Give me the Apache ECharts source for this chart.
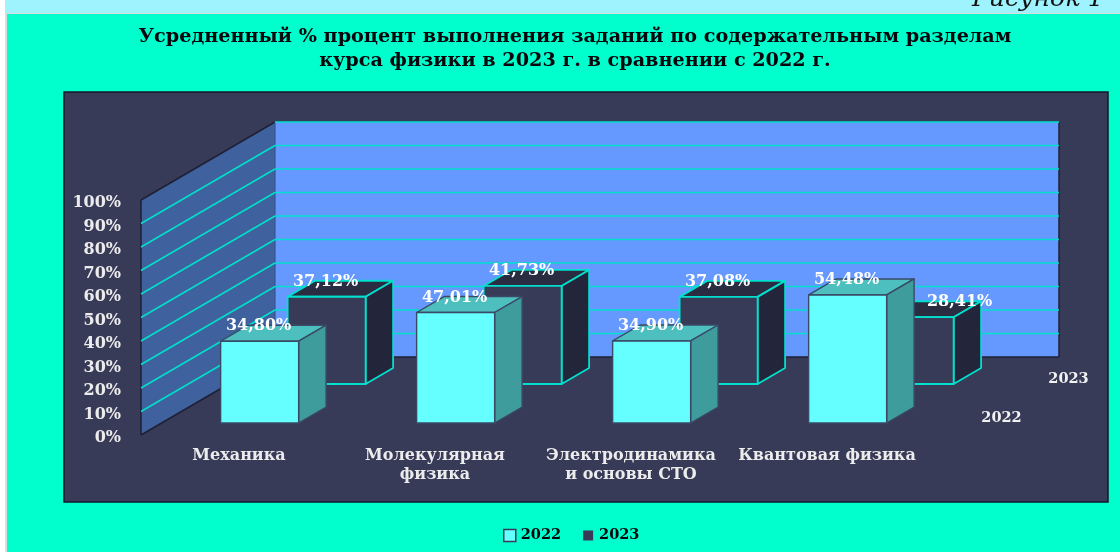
<!DOCTYPE html>
<html>
<head>
<meta charset="utf-8">
<style>
html,body{margin:0;padding:0;background:#fff;overflow:hidden}
#chart{width:1120px;height:552px}
</style>
<script src="https://cdn.jsdelivr.net/npm/echarts@6/dist/echarts.min.js"></script>
</head>
<body>
<div id="chart"></div>
<script>
// Average task completion by physics course section, 2023 against 2022
const categories = ['Механика', 'Молекулярная\nфизика', 'Электродинамика\nи основы СТО', 'Квантовая физика'];
const values2022 = [34.80, 47.01, 34.90, 54.48];
const values2023 = [37.12, 41.73, 37.08, 28.41];
const percentTicks = [0, 10, 20, 30, 40, 50, 60, 70, 80, 90, 100];
const titleText = 'Усредненный % процент выполнения заданий по содержательным разделам\nкурса физики в 2023 г. в сравнении с 2022 г.';
const figureCaption = 'Рисунок 1';

const SERIF = '"DejaVu Serif", "Liberation Serif", serif';

// Oblique projection of the third axis: screen shift from the front of the floor to the back wall
const DEPTH = [134, -78];
const project = (p, z) => [p[0] + DEPTH[0] * z, p[1] + DEPTH[1] * z];
const BAR_RATIO = 0.398;

const poly = (points, fill, stroke, lineWidth) => ({
  type: 'polygon',
  shape: { points },
  style: { fill, stroke, lineWidth: lineWidth === undefined ? 1 : lineWidth, lineJoin: 'round' },
  silent: true
});
const seg = (a, b, stroke, lineWidth) => ({
  type: 'line',
  shape: { x1: a[0], y1: a[1], x2: b[0], y2: b[1] },
  style: { stroke, lineWidth },
  silent: true
});

// Back wall and side wall, both spanning the full value range
function renderWalls(params, api) {
  const band = api.size([1, 0])[0];
  const b0 = api.coord([0, 0]);
  const t0 = api.coord([0, 100]);
  const bN = api.coord([categories.length - 1, 0]);
  const left = b0[0] - band / 2;
  const right = bN[0] + band / 2;
  const fl = [left, b0[1]], tl = [left, t0[1]], fr = [right, b0[1]], tr = [right, t0[1]];
  const edge = '#1e2036';
  return {
    type: 'group',
    children: [
      poly([project(tl, 1), project(tr, 1), project(fr, 1), project(fl, 1)], '#6699FF', 'transparent', 0),
      poly([tl, project(tl, 1), project(fl, 1), fl], '#3F619E', 'transparent', 0),
      seg(tl, project(tl, 1), edge, 1.5),
      seg(tl, fl, edge, 1.5),
      seg(fl, project(fl, 1), edge, 1.5),
      seg(project(fl, 1), project(fr, 1), edge, 1.5),
      seg(project(tr, 1), project(fr, 1), edge, 1.5),
      seg(project(tl, 1), project(fl, 1), '#39558c', 1.2)
    ]
  };
}

// One gridline per tick, running along the side wall and across the back wall
function renderGridline(params, api) {
  const v = api.value(1);
  const band = api.size([1, 0])[0];
  const c0 = api.coord([0, v]);
  const cN = api.coord([categories.length - 1, v]);
  const a = [c0[0] - band / 2, c0[1]];
  const b = [cN[0] + band / 2, cN[1]];
  const teal = '#00E0CC';
  if (v === 0) return { type: 'group', children: [] };
  return {
    type: 'group',
    children: [
      v === 100 ? { type: 'group', children: [] } : seg(a, project(a, 1), teal, 1.5),
      seg(project(a, 1), project(b, 1), teal, 1.5)
    ]
  };
}

// Box drawn from a value: front face plus top and side faces pushed back along the depth axis
function barRenderer(zFront, zBack, look, labelOf) {
  return function (params, api) {
    const cat = api.value(0);
    const val = api.value(1);
    const band = api.size([1, 0])[0];
    const half = band * BAR_RATIO / 2;
    const base = api.coord([cat, 0]);
    const top = api.coord([cat, val]);
    const fbl = project([base[0] - half, base[1]], zFront);
    const fbr = project([base[0] + half, base[1]], zFront);
    const ftl = project([base[0] - half, top[1]], zFront);
    const ftr = project([base[0] + half, top[1]], zFront);
    const bbr = project([base[0] + half, base[1]], zBack);
    const btl = project([base[0] - half, top[1]], zBack);
    const btr = project([base[0] + half, top[1]], zBack);
    const labelShift = labelOf(cat);
    return {
      type: 'group',
      children: [
        poly([ftl, btl, btr, ftr], look.top, look.edge, look.width),
        poly([ftr, btr, bbr, fbr], look.side, look.edge, look.width),
        poly([ftl, ftr, fbr, fbl], look.front, look.edge, look.width),
        {
          type: 'text',
          z2: 50,
          silent: true,
          style: {
            x: (ftl[0] + ftr[0]) / 2 + labelShift - 1,
            y: ftl[1] - 15,
            text: val.toFixed(2).replace('.', ',') + '%',
            fill: '#FFFFFF',
            font: 'bold 16px ' + SERIF,
            align: 'center',
            verticalAlign: 'middle'
          }
        }
      ]
    };
  };
}

// Row names printed beside the far end of each depth row
function renderDepthLabels(params, api) {
  const band = api.size([1, 0])[0];
  const end = api.coord([categories.length - 1, 0]);
  const at = [end[0] + band / 2 + 22, end[1]];
  const row = (z, text) => {
    const p = project(at, z);
    return {
      type: 'text',
      silent: true,
      style: {
        x: p[0], y: p[1] + 3, text,
        fill: '#F2F2F2', font: 'bold 14.5px ' + SERIF,
        align: 'left', verticalAlign: 'middle'
      }
    };
  };
  return { type: 'group', children: [row(0.256, '2022'), row(0.756, '2023')] };
}

const rows = values => values.map((v, i) => [i, v]);

const chart = echarts.init(document.getElementById('chart'), null, { renderer: 'canvas' });
chart.setOption({
  animation: false,
  backgroundColor: '#FFFFFF',
  title: {
    text: titleText,
    left: 570,
    top: 20,
    textAlign: 'center',
    textStyle: { fontFamily: SERIF, fontWeight: 'bold', fontSize: 19.2, lineHeight: 24, color: '#06060C' }
  },
  legend: {
    data: [
      { name: '2022', itemStyle: { color: '#66FFFF', borderColor: '#383B58', borderWidth: 1.5 } },
      { name: '2023', itemStyle: { color: '#383B58', borderColor: '#00FFCC', borderWidth: 2 } }
    ],
    left: 498,
    top: 523,
    icon: 'rect',
    itemWidth: 12,
    itemHeight: 12,
    itemGap: 20,
    textStyle: { fontFamily: SERIF, fontWeight: 'bold', fontSize: 14.5, color: '#06060C', padding: [0, 0, 0, 0] }
  },
  grid: { left: 141, top: 200, width: 784, height: 235, containLabel: false },
  xAxis: {
    type: 'category',
    data: categories,
    axisLine: { show: false },
    axisTick: { show: false },
    splitLine: { show: false },
    axisLabel: {
      interval: 0,
      margin: 11,
      lineHeight: 19,
      fontFamily: SERIF,
      fontWeight: 'bold',
      fontSize: 16,
      color: '#ECECEC'
    }
  },
  yAxis: {
    type: 'value',
    min: 0,
    max: 100,
    interval: 10,
    axisLine: { show: false },
    axisTick: { show: false },
    splitLine: { show: false },
    axisLabel: {
      margin: 20,
      verticalAlign: 'top',
      lineHeight: 6,
      formatter: '{value}%',
      fontFamily: SERIF,
      fontWeight: 'bold',
      fontSize: 16,
      color: '#ECECEC'
    }
  },
  graphic: {
    elements: [
      { type: 'rect', z: -10, silent: true, shape: { x: 5, y: 0, width: 1115, height: 13 }, style: { fill: '#9FF3FF' } },
      { type: 'rect', z: -10, silent: true, shape: { x: 5, y: 13, width: 1115, height: 539 }, style: { fill: '#DDDDDD' } },
      { type: 'rect', z: -10, silent: true, shape: { x: 7, y: 14, width: 1113, height: 538 }, style: { fill: '#00FFCC' } },
      { type: 'rect', z: -9, silent: true, shape: { x: 64, y: 92, width: 1044, height: 410 }, style: { fill: '#383B58', stroke: '#15172A', lineWidth: 1.5 } },
      {
        type: 'text', z: -8, silent: true, x: 972, y: -13,
        style: { text: figureCaption, fill: '#111111', font: 'italic 25px ' + SERIF }
      }
    ]
  },
  series: [
    {
      name: 'стены',
      type: 'custom',
      z: 2,
      renderItem: renderWalls,
      data: [[0, 100]],
      silent: true
    },
    {
      name: 'сетка',
      type: 'custom',
      z: 3,
      renderItem: renderGridline,
      data: percentTicks.map(t => [0, t]),
      silent: true
    },
    {
      name: '2023',
      type: 'custom',
      z: 4,
      itemStyle: { color: '#383B58' },
      renderItem: barRenderer(0.654, 0.859,
        { front: '#383B58', top: '#2A2C42', side: '#23263A', edge: '#00E0CC', width: 1.8 },
        // the last label sits clear of the taller box standing in front of it
        cat => (cat === 3 ? 46 : 0)),
      data: rows(values2023),
      silent: true
    },
    {
      name: '2022',
      type: 'custom',
      z: 5,
      itemStyle: { color: '#66FFFF' },
      renderItem: barRenderer(0.154, 0.359,
        { front: '#66FFFF', top: '#4DBFBF', side: '#3E9C9C', edge: '#3A4A66', width: 1.4 },
        () => 0),
      data: rows(values2022),
      silent: true
    },
    {
      name: 'ряды',
      type: 'custom',
      z: 6,
      renderItem: renderDepthLabels,
      data: [[0, 0]],
      silent: true
    }
  ]
});
</script>
</body>
</html>
